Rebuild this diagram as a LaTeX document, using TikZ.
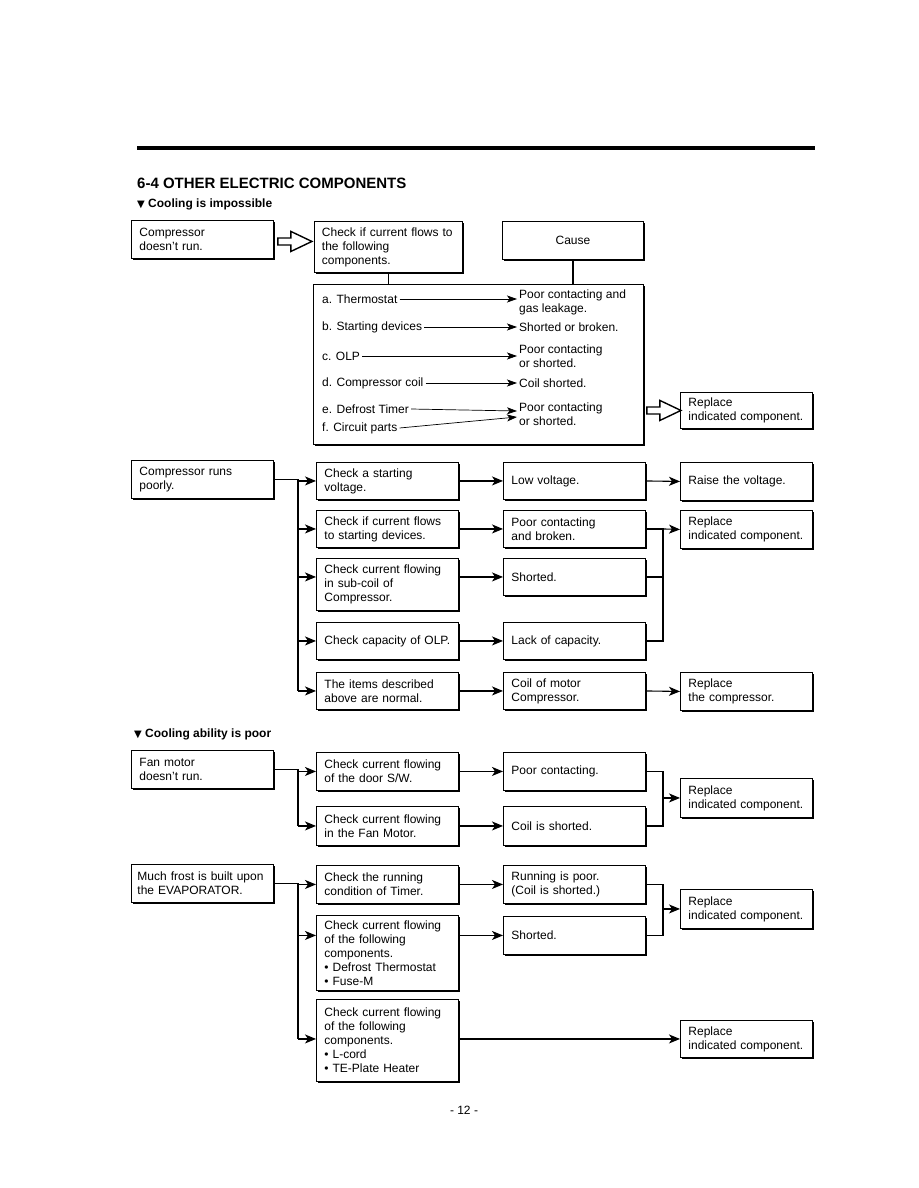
\documentclass[tikz,border=0pt]{standalone}
\usepackage{fontspec}
\setmainfont{Liberation Sans}
\newfontfamily\symfont{DejaVu Sans}
\usetikzlibrary{arrows.meta,shadows,calc}
\begin{document}
\begin{tikzpicture}[x=1pt,y=-1pt,
 bx/.style={draw, fill=white, line width=0.9pt, anchor=north west, align=left,
   inner xsep=8pt, inner ysep=2pt, font=\fontsize{12}{14}\selectfont,
   drop shadow={shadow xshift=2pt, shadow yshift=-2pt, fill=black, opacity=1}},
 wa/.style={text width=126pt},
 wd/.style={text width=116pt},
 mh/.style={minimum height=#1pt},
 arr/.style={line width=1.1pt, -{Stealth[length=11pt,width=9pt,inset=3pt]}},
 ln/.style={line width=1.1pt},
 sarr/.style={line width=0.7pt, -{Stealth[length=10pt,width=7pt,inset=2.5pt]}},
 itm/.style={anchor=west, inner xsep=2pt, inner ysep=0pt, font=\fontsize{12}{14}\selectfont, align=left},
 hollow/.style={draw, line width=1.4pt, fill=white, line join=miter},
 head/.style={anchor=west, inner sep=0pt},
]
\useasboundingbox (0,0) rectangle (918,1188);
\fill[white] (0,0) rectangle (918,1188);

% header
\draw[line width=3.5pt] (137,148) -- (815,148);
\node[head, font=\fontsize{15}{18}\selectfont\bfseries] (title) at (137,183) {6-4 OTHER ELECTRIC COMPONENTS};
\node[head, font=\fontsize{12}{14}\selectfont\bfseries] (sub1) at (137,204) {{\symfont\fontsize{10}{12}\selectfont ▼} Cooling is impossible};

% ---------- section 1
\node[bx, wa, mh=38] (a1) at (131,220) {Compressor\\doesn't run.};
\node[bx, text width=133pt, inner xsep=7.5pt, mh=51] (a2) at (314,221) {Check if current flows to\\the following\\components.};
\node[bx, text width=125pt, align=center, mh=38] (cause) at (502,221) {Cause};
\node[bx, minimum width=330pt, mh=160] (big) at (313,284) {};
\node[bx, wd, mh=36] (r1) at (680,392) {Replace\\indicated component.};

\begin{scope}[shift={($(a1.east)+(4,2)$)}]
\draw[hollow] (0,-3.5) -- (13,-3.5) -- (13,-10) -- (34,0) -- (13,10) -- (13,3.5) -- (0,3.5) -- cycle;
\end{scope}
\begin{scope}[shift={($(big.east |- r1.west)+(3,0)$)}]
\draw[hollow] (0,-3.5) -- (13,-3.5) -- (13,-10) -- (34,0) -- (13,10) -- (13,3.5) -- (0,3.5) -- cycle;
\end{scope}

\draw[ln] (a2.south) -- (a2.south |- big.north);
\draw[ln] (cause.south) -- (cause.south |- big.north);

\node[itm] (ta) at (320,299) {a. Thermostat};
\node[itm] (tb) at (320,327) {b. Starting devices};
\node[itm] (tc) at (320,356) {c. OLP};
\node[itm] (td) at (320,383) {d. Compressor coil};
\node[itm] (te) at (320,409) {e. Defrost Timer};
\node[itm] (tf) at (320,428) {f. Circuit parts};
\node[itm] (ca) at (517,302) {Poor contacting and\\gas leakage.};
\node[itm] (cb) at (517,327) {Shorted or broken.};
\node[itm] (cc) at (517,356) {Poor contacting\\or shorted.};
\node[itm] (cd) at (517,383) {Coil shorted.};
\node[itm] (ce) at (517,414) {Poor contacting\\or shorted.};

\draw[sarr] (ta.east) -- (ta.east -| ca.west);
\draw[sarr] (tb.east) -- (tb.east -| cb.west);
\draw[sarr] (tc.east) -- (tc.east -| cc.west);
\draw[sarr] (td.east) -- (td.east -| cd.west);
\draw[sarr] (te.east) -- ($(ce.west)+(0,-3)$);
\draw[sarr] (tf.east) -- ($(ce.west)+(0,3)$);

% ---------- section 2
\node[bx, wa, mh=38] (s2) at (131,460) {Compressor runs\\poorly.};
\node[bx, wa, mh=37] (b1) at (316,462) {Check a starting\\voltage.};
\node[bx, wa, mh=37] (b2) at (316,510) {Check if current flows\\to starting devices.};
\node[bx, wa, mh=52] (b3) at (316,558) {Check current flowing\\in sub-coil of\\Compressor.};
\node[bx, wa, mh=37] (b4) at (316,622) {Check capacity of OLP.};
\node[bx, wa, mh=37] (b5) at (316,672) {The items described\\above are normal.};
\node[bx, wa, mh=37] (c1) at (503,462) {Low voltage.};
\node[bx, wa, mh=37] (c2) at (503,510) {Poor contacting\\and broken.};
\node[bx, wa, mh=37] (c3) at (503,558) {Shorted.};
\node[bx, wa, mh=37] (c4) at (503,622) {Lack of capacity.};
\node[bx, wa, mh=37] (c5) at (503,672) {Coil of motor\\Compressor.};
\node[bx, wd, mh=38] (d1) at (680,462) {Raise the voltage.};
\node[bx, wd, mh=38] (d2) at (680,510) {Replace\\indicated component.};
\node[bx, wd, mh=38] (d5) at (680,672) {Replace\\the compressor.};

\coordinate (t2) at (298,480);
\draw[ln] (s2.east) -- (t2 |- s2.east) -- (t2 |- b5.west);
\foreach \n in {b1,b2,b4,b5} \draw[arr] (t2 |- \n.west) -- (\n.west);
\draw[arr] (t2 |- c3.west) -- (b3.west |- c3.west);
\draw[arr] (b1.east) -- (c1.west);
\draw[arr] (b2.east) -- (c2.west);
\draw[arr] (b3.east |- c3.west) -- (c3.west);
\draw[arr] (b4.east) -- (c4.west);
\draw[arr] (b5.east) -- (c5.west);
\draw[arr] (c1.east) -- (d1.west);
\draw[arr] (c5.east) -- (d5.west);
\coordinate (k2) at (663,528);
\draw[ln] (c2.east) -- (k2 |- c2.east) -- (k2 |- c4.east) -- (c4.east);
\draw[ln] (c3.east) -- (k2 |- c3.east);
\draw[arr] (k2 |- c2.east) -- (d2.west);

% ---------- section 3
\node[head, font=\fontsize{12}{14}\selectfont\bfseries] (sub2) at (134,734) {{\symfont\fontsize{10}{12}\selectfont ▼} Cooling ability is poor};
\node[bx, wa, mh=38] (s3) at (131,750) {Fan motor\\doesn't run.};
\node[bx, wa, mh=38] (e1) at (316,752) {Check current flowing\\of the door S/W.};
\node[bx, wa, mh=39] (e2) at (316,806) {Check current flowing\\in the Fan Motor.};
\node[bx, wa, mh=38] (f1) at (503,752) {Poor contacting.};
\node[bx, wa, mh=39] (f2) at (503,806) {Coil is shorted.};
\node[bx, wd, mh=39] (r3) at (680,778) {Replace\\indicated component.};

\coordinate (t3) at (298,770);
\draw[ln] (s3.east) -- (t3 |- s3.east) -- (t3 |- e2.west);
\draw[arr] (t3 |- e1.west) -- (e1.west);
\draw[arr] (t3 |- e2.west) -- (e2.west);
\draw[arr] (e1.east) -- (f1.west);
\draw[arr] (e2.east) -- (f2.west);
\coordinate (k3) at (663,798);
\draw[ln] (f1.east) -- (k3 |- f1.east) -- (k3 |- f2.east) -- (f2.east);
\draw[arr] (k3 |- r3.west) -- (r3.west);

% ---------- section 4
\node[bx, text width=130pt, inner xsep=6pt, mh=38] (s4) at (131,864) {Much frost is built upon\\the EVAPORATOR.};
\node[bx, wa, mh=38] (g1) at (316,865) {Check the running\\condition of Timer.};
\node[bx, wa, mh=75] (g2) at (316,915) {Check current flowing\\of the following\\components.\\• Defrost Thermostat\\• Fuse-M};
\node[bx, wa, mh=82] (g3) at (316,999) {Check current flowing\\of the following\\components.\\• L-cord\\• TE-Plate Heater};
\node[bx, wa, mh=38] (h1) at (503,865) {Running is poor.\\(Coil is shorted.)};
\node[bx, wa, mh=38] (h2) at (503,916) {Shorted.};
\node[bx, wd, mh=39] (r4) at (680,889) {Replace\\indicated component.};
\node[bx, wd, mh=37] (r5) at (680,1020) {Replace\\indicated component.};

\coordinate (t4) at (298,882);
\draw[ln] (s4.east) -- (t4 |- s4.east) -- (t4 |- r5.west);
\draw[arr] (t4 |- g1.west) -- (g1.west);
\draw[arr] (t4 |- h2.west) -- (g2.west |- h2.west);
\draw[arr] (t4 |- r5.west) -- (g3.west |- r5.west);
\draw[arr] (g1.east) -- (h1.west);
\draw[arr] (g2.east |- h2.west) -- (h2.west);
\draw[arr] (g3.east |- r5.west) -- (r5.west);
\coordinate (k4) at (663,910);
\draw[ln] (h1.east) -- (k4 |- h1.east) -- (k4 |- h2.east) -- (h2.east);
\draw[arr] (k4 |- r4.west) -- (r4.west);

\node[font=\fontsize{12}{14}\selectfont] (pg) at (464,1110) {- 12 -};
\end{tikzpicture}
\end{document}
